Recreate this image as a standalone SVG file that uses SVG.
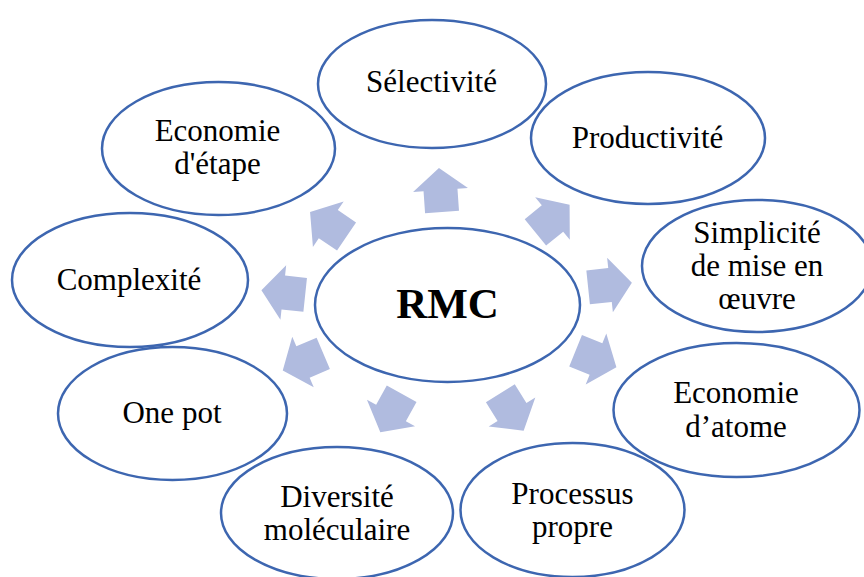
<svg xmlns="http://www.w3.org/2000/svg" width="864" height="577" viewBox="0 0 864 577">
<style>
.n{fill:#ffffff;stroke:#3D66B0;stroke-width:2.5}
.t{font-family:"Liberation Serif","Times New Roman",serif;font-size:31px;fill:#000;text-anchor:middle}
.b{font-weight:bold;font-size:43px}
.a{fill:#B0BBDF}
</style>
<defs>
<path id="arr" d="M22,0 L0,-27.5 L0,-17 L-22,-17 L-22,17 L0,17 L0,27.5 Z"/>
</defs>
<rect width="864" height="577" fill="#ffffff"/>
<g id="connectors">
<use href="#arr" class="a" transform="translate(440.5,190) rotate(-94)"/>
<use href="#arr" class="a" transform="translate(552.5,218.5) rotate(-39)"/>
<use href="#arr" class="a" transform="translate(610,285) rotate(-6)"/>
<use href="#arr" class="a" transform="translate(596,359) rotate(22)"/>
<use href="#arr" class="a" transform="translate(512,412) rotate(58)"/>
<use href="#arr" class="a" transform="translate(391,413) rotate(119)"/>
<use href="#arr" class="a" transform="translate(303,362) rotate(157)"/>
<use href="#arr" class="a" transform="translate(283.3,292.5) rotate(186)"/>
<use href="#arr" class="a" transform="translate(328.3,224.2) rotate(214)"/>
</g>
<g id="rmc"><ellipse class="n" cx="447.5" cy="305" rx="132.5" ry="77"/><text class="t b" x="447.5" y="318">RMC</text></g>
<g id="selectivite"><ellipse class="n" cx="432" cy="84" rx="114" ry="64"/><text class="t" x="431.5" y="92">Sélectivité</text></g>
<g id="productivite"><ellipse class="n" cx="648" cy="138" rx="117" ry="66"/><text class="t" x="647.5" y="148">Productivité</text></g>
<g id="simplicite"><ellipse class="n" cx="757" cy="266" rx="115" ry="66"/><text class="t" x="757" y="243">Simplicité</text><text class="t" x="757" y="276">de mise en</text><text class="t" x="757" y="309">œuvre</text></g>
<g id="economie-atome"><ellipse class="n" cx="736.5" cy="410" rx="123" ry="67"/><text class="t" x="736" y="403">Economie</text><text class="t" x="736" y="437">d’atome</text></g>
<g id="processus"><ellipse class="n" cx="572.5" cy="510" rx="112" ry="67"/><text class="t" x="572.5" y="504">Processus</text><text class="t" x="572.5" y="537">propre</text></g>
<g id="diversite"><ellipse class="n" cx="337" cy="513" rx="116" ry="66"/><text class="t" x="337" y="507">Diversité</text><text class="t" x="337" y="540">moléculaire</text></g>
<g id="one-pot"><ellipse class="n" cx="172.5" cy="413.5" rx="114.5" ry="66.5"/><text class="t" x="172" y="423">One pot</text></g>
<g id="complexite"><ellipse class="n" cx="130" cy="280" rx="118" ry="67"/><text class="t" x="129" y="290">Complexité</text></g>
<g id="economie-etape"><ellipse class="n" cx="218.5" cy="148.5" rx="116.5" ry="66.5"/><text class="t" x="217.5" y="141">Economie</text><text class="t" x="217.5" y="174">d'étape</text></g>
</svg>
